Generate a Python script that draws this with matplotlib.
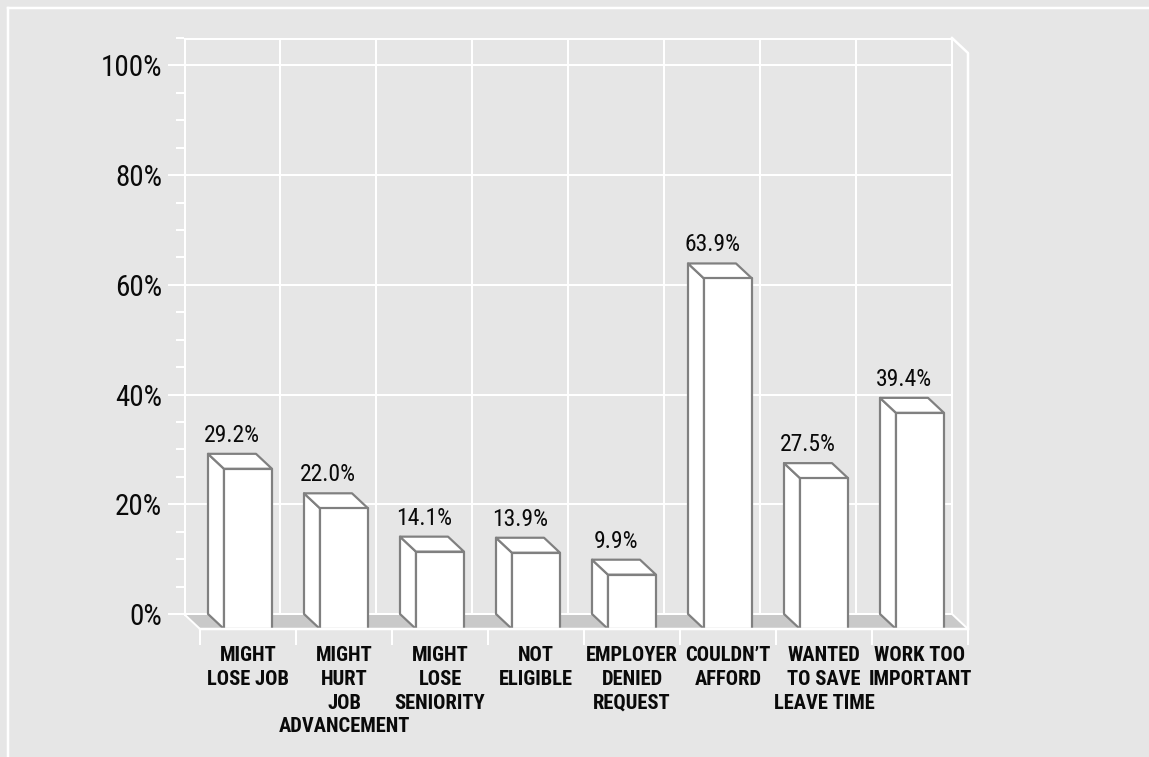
import os
import matplotlib
matplotlib.use("Agg")
import matplotlib.pyplot as plt
from matplotlib import font_manager as fm
from matplotlib.patches import Polygon
from matplotlib.lines import Line2D
import numpy as np

# ---------------- data ----------------
categories = [
    "MIGHT\nLOSE JOB",
    "MIGHT\nHURT\nJOB\nADVANCEMENT",
    "MIGHT\nLOSE\nSENIORITY",
    "NOT\nELIGIBLE",
    "EMPLOYER\nDENIED\nREQUEST",
    "COULDN\u2019T\nAFFORD",
    "WANTED\nTO SAVE\nLEAVE TIME",
    "WORK TOO\nIMPORTANT",
]
values = [29.2, 22.0, 14.1, 13.9, 9.9, 63.9, 27.5, 39.4]
y_ticks = [0, 20, 40, 60, 80, 100]
y_tick_labels = ["0%", "20%", "40%", "60%", "80%", "100%"]
y_max = 105
y_minor_step = 5

# ---------------- fonts: pick an installed condensed face ----------------
PREFS = ['liberationsansnarrow', 'robotocondensed', 'notosans-condensed',
         'opensans-condensed', 'opensanscondensed', 'dejavusanscondensed',
         'notosans-semicondensed', 'opensans-semicondensed']
BAD = ['italic', 'oblique', 'light', 'thin', 'medium', 'semibold', 'extrabold',
       'black', 'ultra', 'heavy']


def find_font(bold):
    files = sorted({f.fname for f in fm.fontManager.ttflist})
    for pref in PREFS:
        for fn in files:
            b = os.path.basename(fn).lower().replace('_', '').replace(' ', '')
            if not b.startswith(pref):
                continue
            rest = b[len(pref):]
            if any(k in rest for k in BAD):
                continue
            if ('bold' in rest) == bold:
                return fn
    return None


def fprop(bold, size):
    fn = find_font(bold)
    if fn:
        return fm.FontProperties(fname=fn, size=size)
    return fm.FontProperties(family='DejaVu Sans', stretch='condensed',
                             weight='bold' if bold else 'normal', size=size)


fp_ytick = fprop(False, 21)
fp_value = fprop(False, 17)
fp_cat = fprop(True, 14.8)

# ---------------- style ----------------
W, H, DPI = 1149, 757, 100
BG = "#e6e6e6"
FLOOR = "#c9c9c9"
EDGE = "#808080"
GRID = "white"
TXT = "#0a0a0a"
PT = 72.0 / DPI  # points per pixel

AX_L, AX_R, AX_T, AX_B = 184, 968, 38, 629
SLOT_PX = 96
DEPTH_X_PX, DEPTH_Y_PX = 16, 15
CAT_PAD_PX = 17
CAT_LINE_PX = 23.8

fig = plt.figure(figsize=(W / DPI, H / DPI), dpi=DPI, facecolor=BG)
n = len(values)
DX = DEPTH_X_PX / SLOT_PX
ppy = (AX_B - DEPTH_Y_PX - AX_T) / y_max
DY = DEPTH_Y_PX / ppy

ax = fig.add_axes([AX_L / W, (H - AX_B) / H, (AX_R - AX_L) / W, (AX_B - AX_T) / H])
ax.set_facecolor("none")
ax.set_xlim(0, n + DX)
ax.set_ylim(-DY, y_max)
for s in ax.spines.values():
    s.set_visible(False)

# back wall grid
for t in y_ticks:
    ax.plot([0, n], [t, t], color=GRID, lw=2 * PT, zorder=1, solid_capstyle='butt')
for k in range(n + 1):
    ax.plot([k, k], [0, y_max], color=GRID, lw=2 * PT, zorder=1)
ax.plot([0, 0], [0, y_max], color=GRID, lw=3 * PT, zorder=1.2)
ax.plot([0, n], [y_max, y_max], color=GRID, lw=3 * PT, zorder=1.2)
# right side wall
ax.plot([n, n + DX, n + DX], [y_max, y_max - DY, -DY], color=GRID, lw=2.5 * PT,
        zorder=1.2, clip_on=False)

# floor
floor = Polygon([(0, 0), (n, 0), (n + DX, -DY), (DX, -DY)], closed=True,
                facecolor=FLOOR, edgecolor='none', zorder=1.5)
ax.add_patch(floor)
ax.plot([0, n], [0, 0], color=GRID, lw=2 * PT, zorder=1.6)
ax.plot([0, DX], [0, -DY], color=GRID, lw=2 * PT, zorder=1.6)
ax.plot([n, n + DX], [0, -DY], color=GRID, lw=2 * PT, zorder=1.6)

# bars
bw = 0.5
for i, v in enumerate(values):
    x0 = i + (1 - bw) / 2
    x1 = x0 + bw
    side = Polygon([(x0, 0), (x0, v), (x0 + DX, v - DY), (x0 + DX, -DY)], closed=True,
                   facecolor='white', edgecolor=EDGE, lw=2.2 * PT, zorder=3, joinstyle='round')
    top = Polygon([(x0, v), (x1, v), (x1 + DX, v - DY), (x0 + DX, v - DY)], closed=True,
                  facecolor='white', edgecolor=EDGE, lw=2.2 * PT, zorder=3, joinstyle='round')
    front = Polygon([(x0 + DX, -DY), (x0 + DX, v - DY), (x1 + DX, v - DY), (x1 + DX, -DY)],
                    closed=True, facecolor='white', edgecolor=EDGE, lw=2.2 * PT, zorder=3.1,
                    joinstyle='round')
    for p in (side, top, front):
        ax.add_patch(p)
    ax.annotate(f"{v:.1f}%", xy=(i + 0.5, v), xytext=(0, 7 * PT), textcoords='offset points',
                ha='center', va='bottom', fontproperties=fp_value, color=TXT, zorder=5)

# front floor edge
ax.plot([DX, n + DX], [-DY, -DY], color=GRID, lw=2.5 * PT, zorder=4, clip_on=False)

# y axis ticks
ax.set_yticks(y_ticks)
ax.set_yticklabels(y_tick_labels)
ax.set_yticks(np.arange(0, y_max + 0.1, y_minor_step), minor=True)
ax.tick_params(axis='y', which='major', length=16 * PT, width=2 * PT, color=GRID,
               pad=6 * PT, labelcolor=TXT)
ax.tick_params(axis='y', which='minor', length=8 * PT, width=2 * PT, color=GRID)
for lbl in ax.get_yticklabels():
    lbl.set_fontproperties(fp_ytick)

# x axis: separators as ticks on the front edge of the floor
ax.set_xticks(np.arange(n + 1) + DX)
ax.set_xticklabels([])
ax.tick_params(axis='x', which='major', length=16 * PT, width=2 * PT, color=GRID)

# category labels, one text per line, centred under each front slot
for i, cat in enumerate(categories):
    for k, line in enumerate(cat.split("\n")):
        ax.annotate(line, xy=(i + 0.5 + DX, -DY), xytext=(0, -(CAT_PAD_PX + k * CAT_LINE_PX) * PT),
                    textcoords='offset points', ha='center', va='top',
                    fontproperties=fp_cat, color=TXT, annotation_clip=False)

# outer frame (top and left)
fig.add_artist(Line2D([8 / W, 1], [1 - 8 / H, 1 - 8 / H], color='white', lw=2.5 * PT))
fig.add_artist(Line2D([8 / W, 8 / W], [0, 1 - 8 / H], color='white', lw=2.5 * PT))

fig.savefig("out.png", dpi=DPI, facecolor=BG)
